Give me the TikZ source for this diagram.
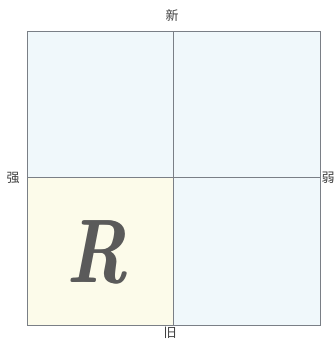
\documentclass[tikz,border=0pt]{standalone}
\usepackage{fontspec}
\newfontfamily\cjk{Noto Sans CJK SC}
\definecolor{qblue}{HTML}{F0F8FB}
\definecolor{qyellow}{HTML}{FCFBEA}
\definecolor{gridline}{HTML}{7A7F86}
\definecolor{rgray}{HTML}{5A5A5A}
\tikzset{
  axislabel/.style={font=\cjk\fontsize{13}{13}\selectfont, text=black!75, inner sep=0pt},
  gridstroke/.style={draw=gridline, line width=0.8pt},
  bigletter/.style={text=rgray, inner sep=0pt, font=\fontsize{90}{90}\selectfont\bfseries\itshape}
}
\begin{document}
\begin{tikzpicture}[x=1pt,y=-1pt]
\useasboundingbox (0,0) rectangle (336,340);
\fill[white] (0,0) rectangle (336,340);
\fill[qblue] (27,31) rectangle (320,177);
\fill[qyellow] (27,177) rectangle (173,325);
\fill[qblue] (173,177) rectangle (320,325);
\node[gridstroke, minimum width=293pt, minimum height=294pt, inner sep=0pt, anchor=north west] (box) at (27,31) {};
\coordinate (tc) at (173,31);
\coordinate (bc) at (173,325);
\coordinate (lc) at (27,177);
\coordinate (rc) at (320,177);
\draw[gridstroke] (tc) -- (bc);
\draw[gridstroke] (lc) -- (rc);
\node[axislabel] (new) at (172,16) {新};
\node[axislabel] (strong) at (13,178) {强};
\node[axislabel] (weak) at (328,178) {弱};
\node[axislabel] (old) at (170,333) {旧};
\node[bigletter] (Rshade) at (97.6,252) {\scalebox{0.78}[1]{R}};
\node[bigletter] (R) at (96.4,252) {\scalebox{0.78}[1]{R}};
\end{tikzpicture}
\end{document}
